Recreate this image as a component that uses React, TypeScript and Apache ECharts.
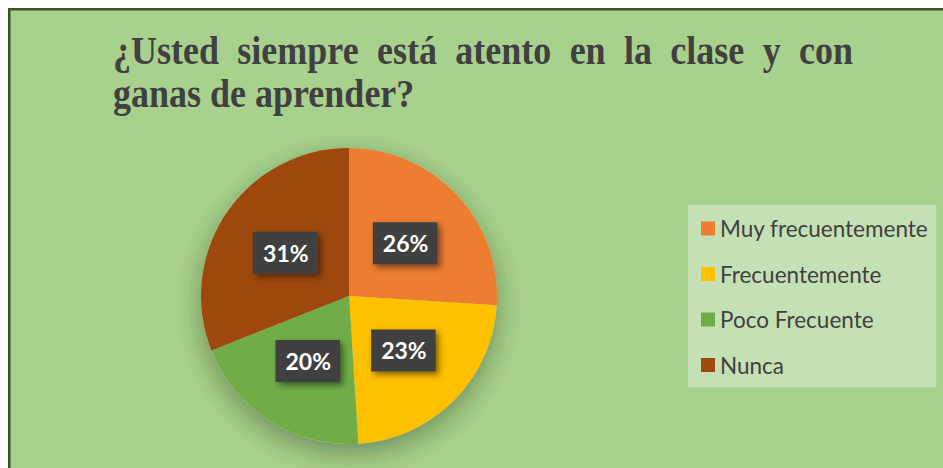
import React, { useEffect, useRef } from "react";
import * as echarts from "echarts";

const titleLines = ["¿Usted siempre está atento en la clase y con", "ganas de aprender?"];
const categories = ["Muy frecuentemente", "Frecuentemente", "Poco Frecuente", "Nunca"];
const values = [26, 23, 20, 31];
const colors = ["#ED7D31", "#FFC000", "#70AD47", "#9E480E"];

const TITLE_FONT = 'bold 36px "Liberation Serif"';

function measure(text: string): number {
  const c = document.createElement("canvas");
  const ctx = c.getContext("2d")!;
  ctx.font = TITLE_FONT;
  return ctx.measureText(text).width;
}

export default function App() {
  const ref = useRef<HTMLDivElement>(null);
  useEffect(() => {
    document.body.style.margin = "0";
    const chart = echarts.init(ref.current!, undefined, { renderer: "svg" });

    // justified first title line
    const left = 105;
    const right = 845;
    const words = titleLines[0].split(" ");
    const widths = words.map(measure);
    const total = widths.reduce((a, b) => a + b, 0);
    const gap = (right - left - total) / (words.length - 1);
    const titleEls: any[] = [];
    let x = left;
    words.forEach((w, i) => {
      titleEls.push({
        type: "text",
        x,
        y: 62,
        scaleY: 1.12,
        silent: true,
        style: {
          text: w,
          font: TITLE_FONT,
          fill: "#404040",
          verticalAlign: "bottom",
        },
      });
      x += widths[i] + gap;
    });
    titleEls.push({
      type: "text",
      x: left,
      y: 105,
      scaleY: 1.12,
      silent: true,
      style: {
        text: titleLines[1],
        font: TITLE_FONT,
        fill: "#404040",
        verticalAlign: "bottom",
      },
    });

    chart.setOption({
      animation: false,
      backgroundColor: "#A9D18E",
      graphic: [
        {
          type: "rect",
          silent: true,
          z: -10,
          shape: { x: 1.25, y: 1.25, width: 3000, height: 3000 },
          style: { fill: "none", stroke: "#375623", lineWidth: 2.5 },
        },
        ...titleEls,
      ],
      legend: {
        orient: "vertical",
        left: 680,
        top: 197,
        data: categories,
        backgroundColor: "#C5E0B4",
        padding: [12, 8, 11, 13],
        itemWidth: 14,
        itemHeight: 14,
        itemGap: 22.5,
        icon: "rect",
        textStyle: {
          fontFamily: "Lato",
          fontSize: 22.5,
          color: "#404040",
          lineHeight: 22,
        },
      },
      series: [
        {
          type: "pie",
          silent: true,
          center: [341, 288],
          radius: 148,
          z: 1,
          label: { show: false },
          labelLine: { show: false },
          data: [{ value: 1, name: "__shadow" }],
          itemStyle: {
            color: "#A9D18E",
            shadowBlur: 28,
            shadowColor: "rgba(40,60,20,0.45)",
            shadowOffsetY: 9,
          },
        },
        {
          type: "pie",
          center: [341, 288],
          radius: 148,
          startAngle: 90,
          clockwise: true,
          z: 2,
          data: categories.map((name, i) => ({
            name,
            value: values[i],
            itemStyle: { color: colors[i] },
          })),
          label: {
            show: true,
            position: "inside",
            formatter: (p: any) => `${p.value}%`,
            fontFamily: "Lato",
            fontWeight: "bold",
            fontSize: 23,
            color: "#FFFFFF",
            backgroundColor: "#404040",
            padding: [8, 9, 8, 10],
            lineHeight: 26,
            shadowBlur: 6,
            shadowOffsetX: 3,
            shadowOffsetY: 3,
            shadowColor: "rgba(0,0,0,0.5)",
          },
          labelLine: { show: false },
          emphasis: { disabled: true },
        },
      ],
    });
    return () => chart.dispose();
  }, []);
  return (
    <div
      ref={ref}
      style={{ position: "absolute", left: 8, top: 8, width: 935, height: 460 }}
    />
  );
}
